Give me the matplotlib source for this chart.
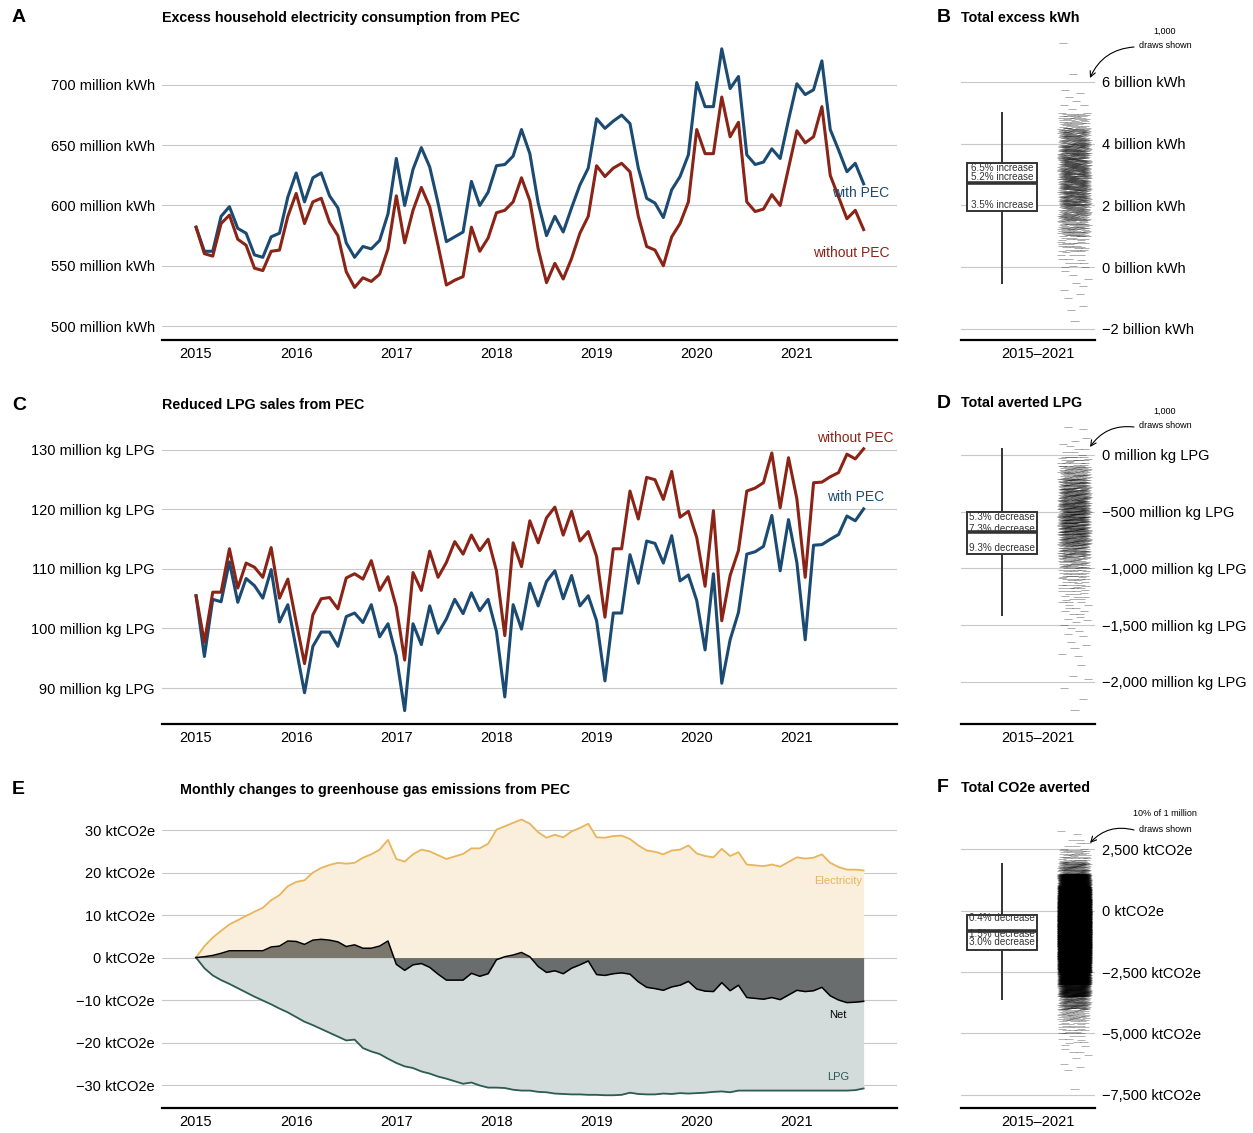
import numpy as np
import matplotlib.pyplot as plt
from matplotlib.collections import LineCollection
from matplotlib.patches import Rectangle

plt.rcParams['font.family'] = ['Liberation Sans', 'DejaVu Sans']

W, H = 1253, 1133
BLUE = '#1b4a72'
RED = '#8a2416'
YEL = '#e8b55a'
TEAL = '#2c5b4f'

# monthly series, Jan 2015 .. Sep 2021
months = np.arange(81)
years = [2015, 2016, 2017, 2018, 2019, 2020, 2021]

# A: household electricity consumption (million kWh)
kwh_with = [582, 562, 562, 591, 599, 581, 577, 559, 557, 574,
            577, 607, 627, 603, 623, 627, 608, 598, 569, 557,
            566, 564, 571, 593, 639, 600, 630, 648, 632, 602,
            570, 574, 578, 620, 600, 611, 633, 634, 641, 663,
            643, 602, 575, 591, 578, 598, 617, 631, 672, 664,
            670, 675, 668, 631, 606, 602, 590, 613, 624, 642,
            702, 682, 682, 730, 697, 707, 642, 634, 636, 647,
            639, 671, 701, 692, 696, 720, 663, 646, 628, 635, 618]
kwh_without = [582, 560, 558, 585, 592, 572, 567, 548, 546, 562,
               563, 591, 610, 585, 603, 606, 586, 575, 545, 532,
               540, 537, 543, 564, 608, 569, 596, 615, 599, 567,
               534, 538, 541, 582, 562, 573, 594, 596, 603, 623,
               604, 564, 536, 552, 539, 556, 577, 591, 633, 624,
               631, 635, 628, 591, 566, 563, 550, 574, 585, 603,
               663, 643, 643, 690, 657, 669, 603, 595, 597, 609,
               600, 631, 662, 652, 657, 682, 625, 607, 589, 596, 580]

# C: LPG sales (million kg)
lpg_without = [105.5, 97.7, 106.1, 106.1, 113.4, 106.8, 111.0, 110.3, 108.6, 113.6,
               105.1, 108.3, 101.1, 94.1, 102.3, 105.0, 105.2, 103.3, 108.5, 109.2,
               108.3, 111.4, 106.4, 108.7, 103.6, 94.7, 109.4, 106.4, 113.0, 108.6,
               111.1, 114.6, 112.5, 115.7, 113.1, 115.0, 109.7, 98.8, 114.4, 110.4,
               118.1, 114.4, 118.6, 120.4, 115.7, 119.7, 114.7, 116.3, 112.1, 101.9,
               113.4, 113.4, 123.1, 118.4, 125.4, 125.0, 121.7, 126.4, 118.7, 119.7,
               115.3, 107.1, 119.8, 101.3, 108.9, 113.1, 123.1, 123.6, 124.5, 129.5,
               120.3, 128.7, 121.8, 108.6, 124.5, 124.6, 125.5, 126.2, 129.3, 128.5, 130.2]
lpg_with = [105.5, 95.3, 104.9, 104.5, 111.2, 104.4, 108.4, 107.2, 105.1, 109.9,
            101.1, 104.0, 96.6, 89.2, 97.0, 99.4, 99.4, 97.0, 102.0, 102.6,
            101.0, 104.0, 98.6, 100.8, 95.4, 86.2, 100.8, 97.3, 103.8, 99.2,
            101.6, 104.9, 102.5, 106.0, 103.0, 104.9, 99.5, 88.5, 104.0, 99.9,
            107.6, 103.8, 107.9, 109.7, 105.0, 108.9, 103.8, 105.5, 101.3, 91.2,
            102.6, 102.6, 112.4, 107.6, 114.7, 114.3, 111.0, 115.6, 108.0, 109.0,
            104.7, 96.4, 109.2, 90.8, 98.1, 102.7, 112.5, 112.9, 113.8, 119.0,
            109.7, 118.3, 111.1, 98.1, 114.0, 114.1, 115.0, 115.8, 118.9, 118.1, 120.1]

# E: cumulative emission changes (ktCO2e)
ghg_elec = [0, 2.7, 4.7, 6.3, 7.8, 8.8, 9.8, 10.8, 11.7, 13.5,
            14.7, 16.8, 17.8, 18.2, 20.0, 21.1, 21.8, 22.3, 22.1, 22.3,
            23.5, 24.3, 25.4, 27.7, 23.2, 22.6, 24.3, 25.4, 25.0, 24.1,
            23.2, 23.8, 24.4, 25.7, 25.7, 26.8, 30.1, 30.9, 31.7, 32.5,
            31.5, 29.5, 28.2, 28.9, 28.3, 29.7, 30.5, 31.5, 28.3, 28.2,
            28.6, 28.7, 27.9, 26.4, 25.2, 24.9, 24.3, 25.2, 25.4, 26.4,
            24.5, 23.9, 23.6, 25.6, 23.9, 24.8, 21.9, 21.7, 21.5, 21.9,
            21.4, 22.5, 23.6, 23.3, 23.5, 24.3, 22.3, 21.3, 20.7, 20.7, 20.5]
ghg_lpg = [0, -2.5, -4.2, -5.3, -6.2, -7.2, -8.2, -9.2, -10.1, -11.0,
           -12.0, -12.9, -14.0, -15.1, -15.9, -16.8, -17.7, -18.6, -19.5, -19.3,
           -21.3, -22.1, -22.7, -23.8, -24.8, -25.6, -26.0, -26.8, -27.3, -28.0,
           -28.5, -29.1, -29.7, -29.4, -30.1, -30.6, -30.6, -30.7, -31.1, -31.3,
           -31.3, -31.6, -31.7, -32.0, -32.1, -32.2, -32.2, -32.3, -32.3, -32.4,
           -32.4, -32.3, -31.8, -32.1, -32.2, -32.2, -32.0, -32.1, -31.9, -32.0,
           -31.9, -31.8, -31.6, -31.5, -31.7, -31.3, -31.3, -31.3, -31.3, -31.3,
           -31.3, -31.3, -31.3, -31.3, -31.3, -31.3, -31.3, -31.3, -31.3, -31.2, -30.8]

# B/D/F: totals, box = [q1, median, q3], whiskers = [low, high]
# draws given as counts per bin: (first bin edge, bin width)
b_box, b_whisk = [1.82, 2.72, 3.38], [-0.55, 5.03]
b_labels = ['3.5% increase', '5.2% increase', '6.5% increase']
b_bins = (-2.0, 0.5)
b_counts = [1, 2, 4, 4, 12, 30, 70, 100, 135, 150, 150, 140, 110, 45, 5, 3, 1, 0, 1]

d_box, d_whisk = [-875, -676, -500], [-1418, 64]
d_labels = ['9.3% decrease', '7.3% decrease', '5.3% decrease']
d_bins = (-2300, 100)
d_counts = [1, 1, 1, 2, 1, 2, 3, 4, 5, 8, 12, 18, 28, 45, 75, 100, 120, 125,
            120, 105, 85, 55, 25, 6, 3, 2]

f_box, f_whisk = [-1586, -807, -164], [-3648, 1926]
f_labels = ['3.0% decrease', '1.5% decrease', '0.4% decrease']
f_bins = (-7500, 500)
f_counts = [1, 0, 3, 5, 10, 25, 50, 120, 350, 900, 1800, 2800, 3600, 4000,
            3800, 3000, 1800, 700, 120, 40, 8, 2]

fig = plt.figure(figsize=(W / 100, H / 100), dpi=100)


def px_axes(x0, y0, x1, y1):
    return fig.add_axes([x0 / W, 1 - y1 / H, (x1 - x0) / W, (y1 - y0) / H])


def style(ax):
    for s in ['top', 'right', 'left']:
        ax.spines[s].set_visible(False)
    ax.spines['bottom'].set_linewidth(1.6)
    ax.yaxis.grid(True, color='#c8c8c8', lw=0.8)
    ax.set_axisbelow(True)
    ax.tick_params(length=0, labelsize=10.5, pad=5)


def line_axes(y0, y1, ylim, ticks, labels):
    ax = px_axes(162, y0, 897, y1)
    style(ax)
    ax.set_xlim(2014.66, 2022.0)
    ax.set_ylim(ylim)
    ax.set_yticks(ticks, labels)
    ax.set_xticks(years, [str(y) for y in years])
    return ax


def dist_axes(y0, y1, ylim, ticks, labels, box, whisk, blabels, offs, bins, counts, lw, alpha):
    ax = px_axes(961, y0, 1095, y1)
    style(ax)
    ax.set_xlim(0, 1)
    ax.set_ylim(ylim)
    ax.yaxis.tick_right()
    ax.set_yticks(ticks, labels)
    ax.set_xticks([0.575], ['2015\u20132021'])
    ax.vlines(0.306, whisk[0], whisk[1], color='#333333', lw=1.4, zorder=2)
    ax.add_patch(Rectangle((0.045, box[0]), 0.525, box[2] - box[0], fc='white',
                           ec='#333333', lw=1.4, zorder=3))
    ax.hlines(box[1], 0.045, 0.57, color='#333333', lw=2.6, zorder=4)
    for v, s, o in zip(box, blabels, offs):
        ax.annotate(s, (0.306, v), xytext=(0, o), textcoords='offset pixels',
                    ha='center', va='center', fontsize=7.1, color='#333333', zorder=5)
    # spread the binned draws over the strip (quasi-even layout)
    lo, step = bins
    segs = []
    for b, n in enumerate(counts):
        for k in range(n):
            y = lo + step * (b + (0.5 + k * 0.7548776662) % 1)
            u = (0.5 + k * 0.5698402910 + b * 0.31) % 1
            x = 0.847 + (u - 0.5) * 0.2
            segs.append([(x - 0.03, y), (x + 0.03, y)])
    ax.add_collection(LineCollection(segs, colors='black', linewidths=lw, alpha=alpha, zorder=3))
    return ax


def note(ax, y_text, lines, y_tip):
    for j, s in enumerate(lines):
        fig.text(1165 / W, 1 - (y_text + 15 * j) / H, s, ha='center', va='center', fontsize=6.5)
    ax.annotate('', xy=(1090, H - y_tip), xycoords='figure pixels',
                xytext=(1134, H - y_text - 16), textcoords='figure pixels',
                arrowprops=dict(arrowstyle='->', lw=0.8, color='black',
                                connectionstyle='arc3,rad=0.3', shrinkA=0, shrinkB=0),
                annotation_clip=False)


def head(x, y, letter, title, tx):
    fig.text(x / W, 1 - y / H, letter, fontsize=14, fontweight='bold', va='center')
    fig.text(tx / W, 1 - y / H, title, fontsize=10.3, fontweight='bold', va='center')


t = 2015 + months / 12

# A
axA = line_axes(40, 340, (488.4, 737.3), [500, 550, 600, 650, 700],
                ['%d million kWh' % v for v in [500, 550, 600, 650, 700]])
axA.plot(t, kwh_with, color=BLUE, lw=2.2)
axA.plot(t, kwh_without, color=RED, lw=2.2)
axA.text(2021.92, 610.4, 'with PEC', color=BLUE, ha='right', va='center', fontsize=10)
axA.text(2021.93, 560.6, 'without PEC', color=RED, ha='right', va='center', fontsize=10)
head(12, 18, 'A', 'Excess household electricity consumption from PEC', 162)

# C
axC = line_axes(425, 724, (83.95, 134.2), [90, 100, 110, 120, 130],
                ['%d million kg LPG' % v for v in [90, 100, 110, 120, 130]])
axC.plot(t, lpg_with, color=BLUE, lw=2.2)
axC.plot(t, lpg_without, color=RED, lw=2.2)
axC.text(2021.97, 132.0, 'without PEC', color=RED, ha='right', va='center', fontsize=10)
axC.text(2021.87, 122.1, 'with PEC', color=BLUE, ha='right', va='center', fontsize=10)
head(12, 405, 'C', 'Reduced LPG sales from PEC', 162)

# E
axE = line_axes(808, 1108, (-35.4, 35.2), [-30, -20, -10, 0, 10, 20, 30],
                [('%d ktCO2e' % v).replace('-', '\u2212') for v in [-30, -20, -10, 0, 10, 20, 30]])
elec = np.array(ghg_elec)
lpg = np.array(ghg_lpg)
net = elec + lpg
axE.fill_between(t, 0, elec, color='#f9efdc', lw=0)
axE.fill_between(t, 0, lpg, color='#d3dcdb', lw=0)
axE.fill_between(t, 0, net, color='black', alpha=0.5, lw=0)
axE.plot(t, elec, color=YEL, lw=1.3)
axE.plot(t, lpg, color=TEAL, lw=1.3)
axE.plot(t, net, color='black', lw=1.1)
axE.text(2021.41, 18.1, 'Electricity', color=YEL, ha='center', va='center', fontsize=8)
axE.text(2021.41, -13.6, 'Net', color='black', ha='center', va='center', fontsize=8)
axE.text(2021.41, -28.2, 'LPG', color=TEAL, ha='center', va='center', fontsize=8)
head(12, 790, 'E', 'Monthly changes to greenhouse gas emissions from PEC', 180)

# B
axB = dist_axes(40, 340, (-2.357, 7.36), [-2, 0, 2, 4, 6],
                [('%d billion kWh' % v).replace('-', '\u2212') for v in [-2, 0, 2, 4, 6]],
                b_box, b_whisk, b_labels, [6, 6, -5], b_bins, b_counts, 0.6, 0.38)
note(axB, 31, ['1,000', 'draws shown'], 78)
head(937, 18, 'B', 'Total excess kWh', 961)

# D
axD = dist_axes(425, 724, (-2370, 264), [-2000, -1500, -1000, -500, 0],
                [('{:,} million kg LPG'.format(v)).replace('-', '\u2212') for v in [-2000, -1500, -1000, -500, 0]],
                d_box, d_whisk, d_labels, [6, 3, -5], d_bins, d_counts, 0.6, 0.38)
note(axD, 411, ['1,000', 'draws shown'], 447)
head(937, 403, 'D', 'Total averted LPG', 961)

# F
axF = dist_axes(808, 1108, (-8033, 4180), [-7500, -5000, -2500, 0, 2500],
                [('{:,} ktCO2e'.format(v)).replace('-', '\u2212') for v in [-7500, -5000, -2500, 0, 2500]],
                f_box, f_whisk, f_labels, [8, -3, -3], f_bins, f_counts, 0.6, 0.35)
note(axF, 814, ['10% of 1 million', 'draws shown'], 843)
head(937, 788, 'F', 'Total CO2e averted', 961)

fig.savefig('out.png', dpi=100)
